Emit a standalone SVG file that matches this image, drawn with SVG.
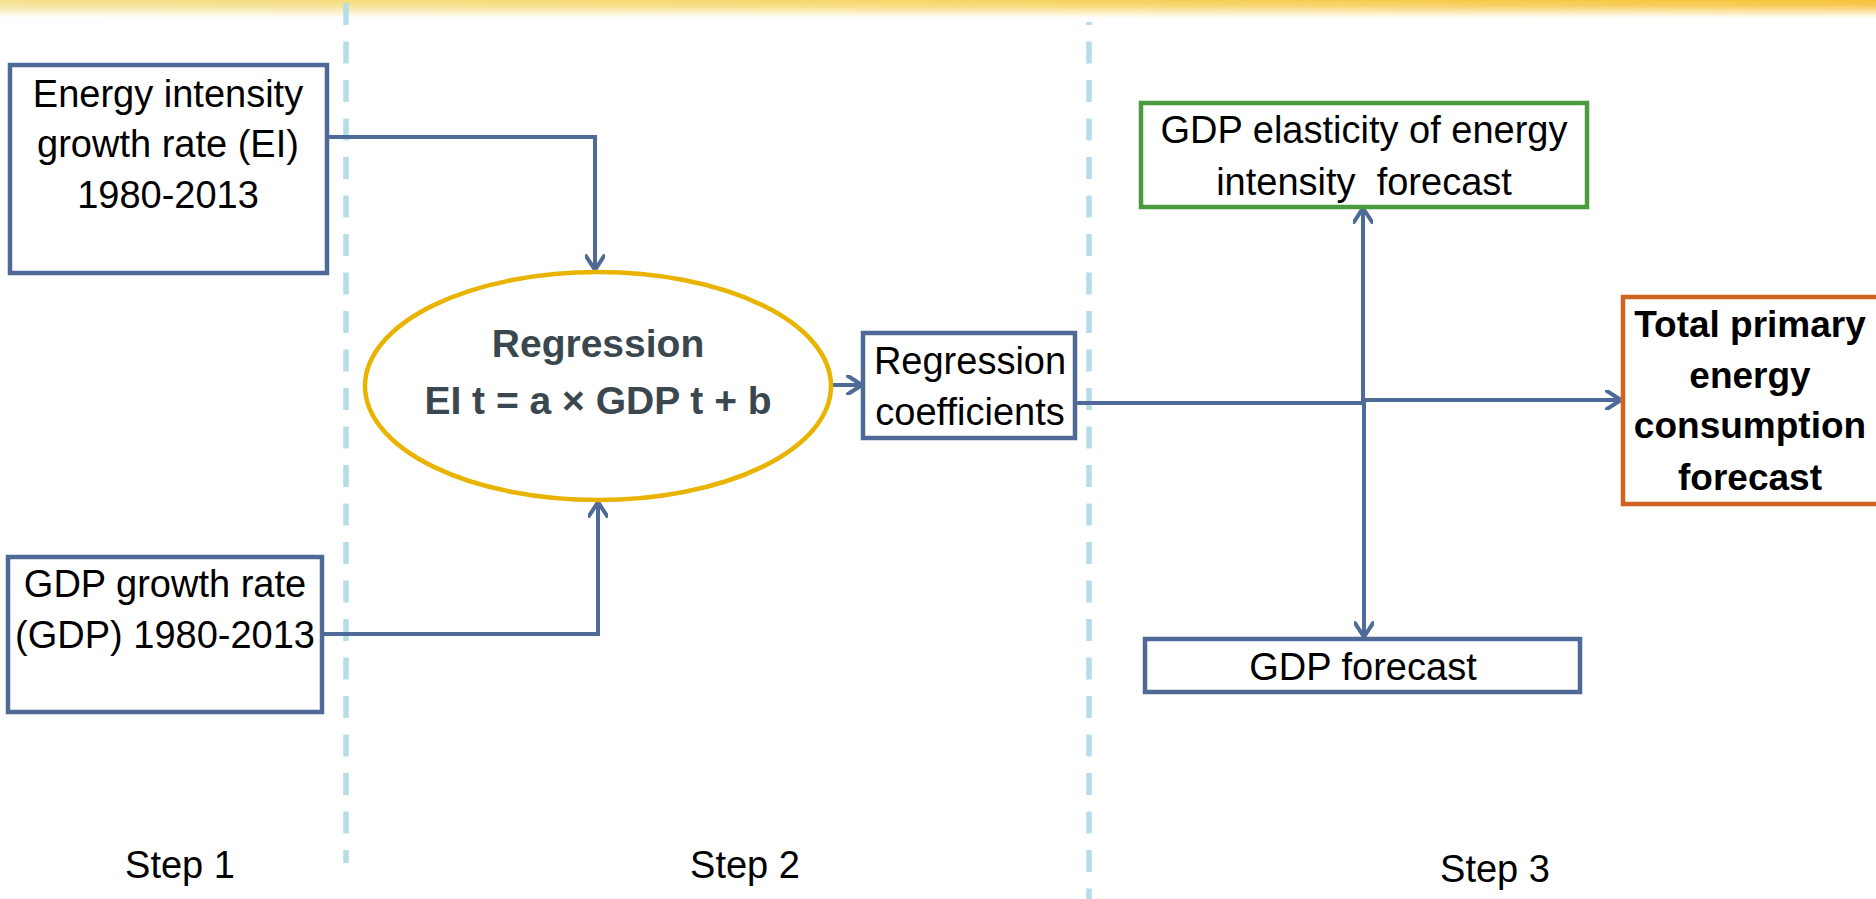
<svg xmlns="http://www.w3.org/2000/svg" width="1876" height="899" viewBox="0 0 1876 899">
  <defs>
    <linearGradient id="bandH" x1="0" y1="0" x2="1" y2="0">
      <stop offset="0" stop-color="#f4e08e"/>
      <stop offset="0.5" stop-color="#f6d565"/>
      <stop offset="1" stop-color="#f7c136"/>
    </linearGradient>
    <linearGradient id="bandV" x1="0" y1="0" x2="0" y2="1">
      <stop offset="0" stop-color="#ffffff" stop-opacity="0"/>
      <stop offset="0.3" stop-color="#ffffff" stop-opacity="0.15"/>
      <stop offset="1" stop-color="#ffffff" stop-opacity="1"/>
    </linearGradient>
    <marker id="arrow" viewBox="0 0 20 20" refX="18" refY="10" markerWidth="20" markerHeight="20" markerUnits="userSpaceOnUse" orient="auto">
      <path d="M4,1 L18,10 L4,19" fill="none" stroke="#4e6a97" stroke-width="4" stroke-linecap="round" stroke-linejoin="round"/>
    </marker>
    <style>
      .box { fill: #ffffff; stroke: #4f6a96; stroke-width: 4.5; }
      .t { font-family: "Liberation Sans", Arial, sans-serif; font-size: 38px; fill: #000000; text-anchor: middle; }
      .tb { font-family: "Liberation Sans", Arial, sans-serif; font-size: 37px; font-weight: bold; fill: #000000; text-anchor: middle; }
      .te { font-family: "Liberation Sans", Arial, sans-serif; font-size: 39px; font-weight: bold; fill: #3a474e; text-anchor: middle; }
      .conn { fill: none; stroke: #4e6a97; stroke-width: 4; }
      .sep { stroke: #b5dde8; stroke-width: 5.5; stroke-dasharray: 22 16.5; fill: none; }
    </style>
  </defs>

  <rect x="0" y="0" width="1876" height="899" fill="#ffffff"/>
  <g id="top-band">
    <rect x="0" y="0" width="1876" height="18" fill="url(#bandH)"/>
    <rect x="0" y="0" width="1876" height="18" fill="url(#bandV)"/>
  </g>

  <g id="separators">
    <line class="sep" x1="346" y1="3" x2="346" y2="863"/>
    <line class="sep" x1="1089" y1="22" x2="1089" y2="899" stroke-dashoffset="19"/>
  </g>

  <g id="connectors">
    <path class="conn" d="M328,137 H595 V270" marker-end="url(#arrow)"/>
    <path class="conn" d="M323,634 H598 V502" marker-end="url(#arrow)"/>
    <path class="conn" d="M833,385 H862" marker-end="url(#arrow)"/>
    <path class="conn" d="M1076,403 H1364"/>
    <path class="conn" d="M1363,404 V208" marker-end="url(#arrow)"/>
    <path class="conn" d="M1364,399 V637" marker-end="url(#arrow)"/>
    <path class="conn" d="M1362,400 H1621" marker-end="url(#arrow)"/>
  </g>

  <g id="node-ei">
    <rect class="box" x="10" y="65" width="317" height="208"/>
    <text class="t" x="168" y="107">Energy intensity</text>
    <text class="t" x="168" y="157">growth rate (EI)</text>
    <text class="t" x="168" y="208">1980-2013</text>
  </g>

  <g id="node-gdp">
    <rect class="box" x="8" y="557" width="314" height="155"/>
    <text class="t" x="165" y="597">GDP growth rate</text>
    <text class="t" x="165" y="648">(GDP) 1980-2013</text>
  </g>

  <g id="node-regression">
    <ellipse cx="598" cy="386" rx="233" ry="114" fill="#ffffff" stroke="#e8b400" stroke-width="4.5"/>
    <text class="te" x="598" y="357">Regression</text>
    <text class="te" x="598" y="414">EI t = a × GDP t + b</text>
  </g>

  <g id="node-coefficients">
    <rect class="box" x="863" y="333" width="212" height="105"/>
    <text class="t" x="970" y="374">Regression</text>
    <text class="t" x="970" y="425">coefficients</text>
  </g>

  <g id="node-elasticity">
    <rect x="1141" y="103" width="446" height="104" fill="#ffffff" stroke="#4a9a40" stroke-width="4.5"/>
    <text class="t" x="1364" y="143">GDP elasticity of energy</text>
    <text class="t" x="1364" y="195" xml:space="preserve">intensity  forecast</text>
  </g>

  <g id="node-total">
    <rect x="1623" y="297" width="262" height="207" fill="#ffffff" stroke="#d0641e" stroke-width="4.5"/>
    <text class="tb" x="1750" y="337">Total primary</text>
    <text class="tb" x="1750" y="388">energy</text>
    <text class="tb" x="1750" y="438">consumption</text>
    <text class="tb" x="1750" y="490">forecast</text>
  </g>

  <g id="node-gdp-forecast">
    <rect class="box" x="1145" y="639" width="435" height="53"/>
    <text class="t" x="1363" y="680">GDP forecast</text>
  </g>

  <g id="step-labels">
    <text class="t" x="180" y="878">Step 1</text>
    <text class="t" x="745" y="878">Step 2</text>
    <text class="t" x="1495" y="882">Step 3</text>
  </g>
</svg>
